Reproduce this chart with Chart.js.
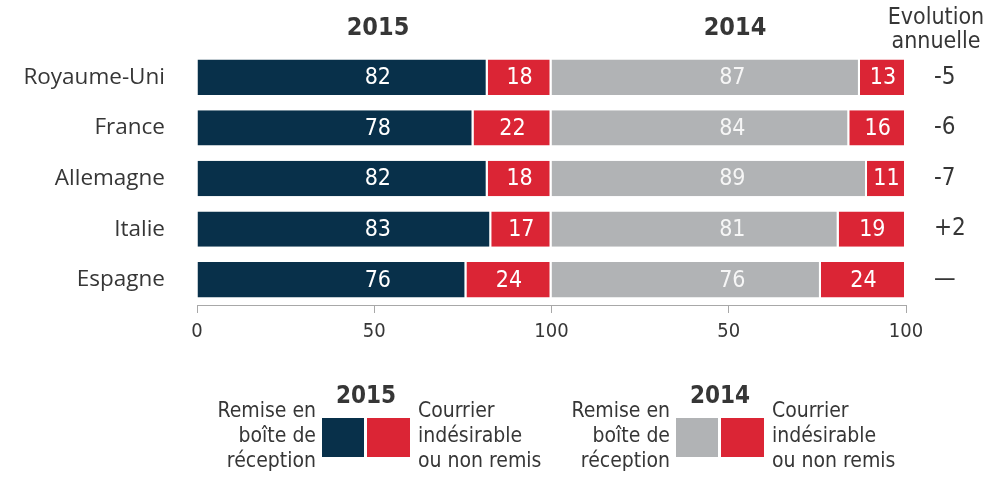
<!DOCTYPE html>
<html>
<head>
<meta charset="utf-8">
<script src="https://cdn.jsdelivr.net/npm/chart.js@4.4.0/dist/chart.umd.min.js"></script>
<style>
html, body { margin: 0; padding: 0; background: #fff; }
#wrap { width: 999px; height: 497px; position: relative; }
</style>
</head>
<body>
<div id="wrap"><canvas id="chart" width="999" height="497"></canvas></div>
<script>
const countries = ['Royaume-Uni', 'France', 'Allemagne', 'Italie', 'Espagne'];
const inbox2015 = [82, 78, 82, 83, 76];
const spam2015 = [18, 22, 18, 17, 24];
const inbox2014 = [87, 84, 89, 81, 76];
const spam2014 = [13, 16, 11, 19, 24];
const evolution = ['-5', '-6', '-7', '+2', '—'];
const xTickLabels = ['0', '50', '100', '50', '100'];

const NAVY = '#08304a';
const RED = '#db2535';
const GREY = '#b1b3b5';
const TEXT = '#363636';
const NARROW = "'Liberation Sans Narrow', 'DejaVu Sans Condensed', sans-serif";
const REGULAR = "'Open Sans', 'Noto Sans', sans-serif";

// numbers in the bars, headers and legend
const overlayPlugin = {
    id: 'overlay',
    afterDatasetsDraw(chart) {
        const ctx = chart.ctx;
        const x = chart.scales.x;
        ctx.save();
        ctx.font = '23px ' + NARROW;
        ctx.textBaseline = 'middle';
        ctx.textAlign = 'center';
        chart.data.datasets.forEach((ds, i) => {
            const meta = chart.getDatasetMeta(i);
            meta.data.forEach((bar, j) => {
                let px;
                if (ds.kind === 'inbox') {
                    // inbox values sit at the middle of their panel
                    px = x.getPixelForValue(ds.offset + 51);
                } else {
                    px = (bar.x + bar.base) / 2;
                }
                ctx.fillStyle = ds.labelColor;
                ctx.fillText(ds.data[j], px, bar.y + 1);
            });
        });
        ctx.restore();
    },
    afterDraw(chart) {
        const ctx = chart.ctx;
        ctx.save();
        ctx.fillStyle = TEXT;
        ctx.textAlign = 'center';
        ctx.textBaseline = 'middle';

        // panel headers
        ctx.font = 'bold 25px ' + NARROW;
        ctx.fillText('2015', 378, 28);
        ctx.fillText('2014', 735, 28);
        ctx.font = '23px ' + NARROW;
        ctx.fillText('Evolution', 936, 18);
        ctx.fillText('annuelle', 936, 42);

        // legend
        const legends = [
            { year: '2015', cx: 366, left: 322, colors: [NAVY, RED] },
            { year: '2014', cx: 720, left: 676, colors: [GREY, RED] }
        ];
        legends.forEach(lg => {
            ctx.fillStyle = TEXT;
            ctx.textAlign = 'center';
            ctx.font = 'bold 24px ' + NARROW;
            ctx.fillText(lg.year, lg.cx, 397);
            ctx.fillStyle = lg.colors[0];
            ctx.fillRect(lg.left, 418, 42, 39);
            ctx.fillStyle = lg.colors[1];
            ctx.fillRect(lg.left + 45, 418, 43, 39);
            ctx.fillStyle = TEXT;
            ctx.font = '21px ' + NARROW;
            ctx.textAlign = 'right';
            ['Remise en', 'boîte de', 'réception'].forEach((t, k) => {
                ctx.fillText(t, lg.left - 6, 412 + k * 25);
            });
            ctx.textAlign = 'left';
            ['Courrier', 'indésirable', 'ou non remis'].forEach((t, k) => {
                ctx.fillText(t, lg.left + 96, 412 + k * 25);
            });
        });
        ctx.restore();
    }
};

new Chart(document.getElementById('chart'), {
    type: 'bar',
    data: {
        labels: countries,
        datasets: [
            { label: '2015 Remise', data: inbox2015, backgroundColor: NAVY, kind: 'inbox', offset: 0, labelColor: '#ffffff' },
            { label: '2015 Courrier', data: spam2015, backgroundColor: RED, kind: 'spam', offset: 0, labelColor: '#ffffff' },
            { label: '2014 Remise', data: inbox2014, backgroundColor: GREY, kind: 'inbox', offset: 100, labelColor: '#f6f6f6' },
            { label: '2014 Courrier', data: spam2014, backgroundColor: RED, kind: 'spam', offset: 100, labelColor: '#ffffff' }
        ]
    },
    options: {
        indexAxis: 'y',
        responsive: false,
        animation: false,
        events: [],
        layout: { padding: { top: 52, left: 0, right: 0, bottom: 0 } },
        datasets: {
            bar: {
                barPercentage: 0.7,
                categoryPercentage: 1,
                borderColor: '#ffffff',
                borderWidth: { right: 2, left: 0, top: 0, bottom: 0 },
                borderSkipped: false
            }
        },
        plugins: {
            legend: { display: false },
            tooltip: { enabled: false }
        },
        scales: {
            x: {
                stacked: true,
                min: 0,
                max: 200,
                afterFit: s => { s.height = 192; },
                grid: { drawOnChartArea: false, tickLength: 8, color: '#a8a8a8' },
                border: { color: '#a8a8a8', width: 1 },
                ticks: {
                    stepSize: 50,
                    padding: 7,
                    color: TEXT,
                    font: { size: 20, family: NARROW },
                    callback: (v, i) => xTickLabels[i]
                }
            },
            y: {
                stacked: true,
                afterFit: s => { s.width = 197; },
                grid: { display: false, drawTicks: false },
                border: { display: false },
                ticks: { padding: 32, color: TEXT, font: { size: 22.5, family: REGULAR } }
            },
            y2: {
                type: 'category',
                position: 'right',
                labels: evolution,
                offset: true,
                afterFit: s => { s.width = 93; },
                grid: { display: false, drawTicks: false },
                border: { display: false },
                ticks: { padding: 28, color: TEXT, font: { size: 24, family: NARROW } }
            }
        }
    },
    plugins: [overlayPlugin]
});
</script>
</body>
</html>
